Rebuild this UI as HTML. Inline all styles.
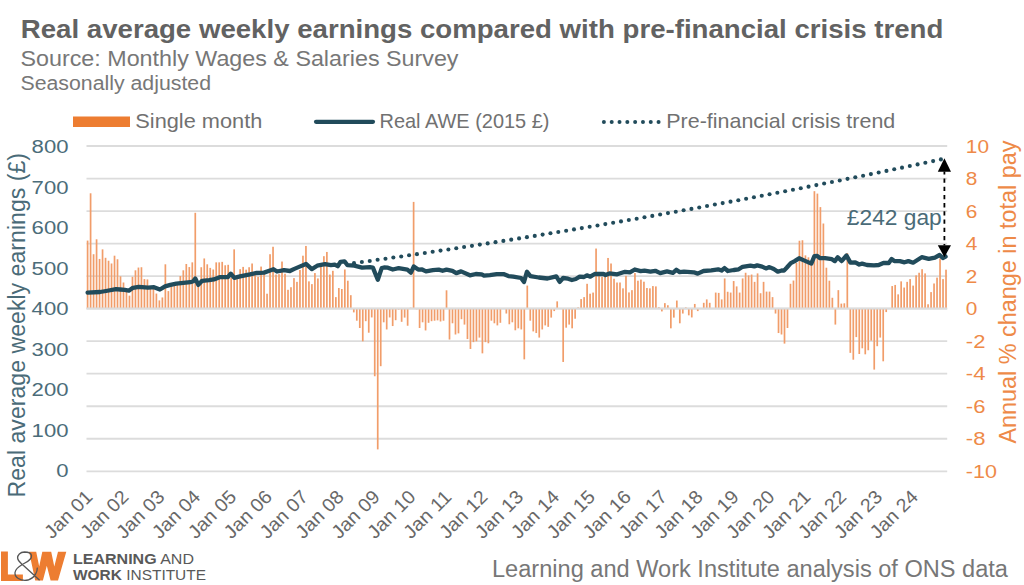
<!DOCTYPE html><html><head><meta charset="utf-8"><style>html,body{margin:0;padding:0;background:#fff;}svg{display:block;}</style></head><body>
<svg width="1024" height="585" viewBox="0 0 1024 585" style="font-family:'Liberation Sans', sans-serif">
<text x="20.8" y="38.3" font-size="26.5" font-weight="bold" fill="#626262" textLength="922.5" lengthAdjust="spacingAndGlyphs">Real average weekly earnings compared with pre-financial crisis trend</text>
<text x="20.5" y="66.2" font-size="22" fill="#777777" textLength="438" lengthAdjust="spacingAndGlyphs">Source: Monthly Wages &amp; Salaries Survey</text>
<text x="20.5" y="90.3" font-size="20" fill="#777777" textLength="190.5" lengthAdjust="spacingAndGlyphs">Seasonally adjusted</text>
<rect x="73" y="116.5" width="57" height="10.5" fill="#ED7D31"/>
<text x="135.3" y="128" font-size="21" fill="#717171" textLength="127" lengthAdjust="spacingAndGlyphs">Single month</text>
<line x1="316" y1="121.8" x2="373" y2="121.8" stroke="#214b5b" stroke-width="4.2" stroke-linecap="round"/>
<text x="379.5" y="128" font-size="21" fill="#717171" textLength="170" lengthAdjust="spacingAndGlyphs">Real AWE (2015 £)</text>
<circle cx="603.90" cy="121.9" r="2.0" fill="#214b5b"/>
<circle cx="611.71" cy="121.9" r="2.0" fill="#214b5b"/>
<circle cx="619.52" cy="121.9" r="2.0" fill="#214b5b"/>
<circle cx="627.33" cy="121.9" r="2.0" fill="#214b5b"/>
<circle cx="635.14" cy="121.9" r="2.0" fill="#214b5b"/>
<circle cx="642.95" cy="121.9" r="2.0" fill="#214b5b"/>
<circle cx="650.76" cy="121.9" r="2.0" fill="#214b5b"/>
<circle cx="658.57" cy="121.9" r="2.0" fill="#214b5b"/>
<text x="666.3" y="128" font-size="21" fill="#717171" textLength="229" lengthAdjust="spacingAndGlyphs">Pre-financial crisis trend</text>
<line x1="86.5" y1="146.00" x2="947.2" y2="146.00" stroke="#dcdcdc" stroke-width="1.8"/>
<line x1="86.5" y1="178.53" x2="947.2" y2="178.53" stroke="#dcdcdc" stroke-width="1.8"/>
<line x1="86.5" y1="211.06" x2="947.2" y2="211.06" stroke="#dcdcdc" stroke-width="1.8"/>
<line x1="86.5" y1="243.59" x2="947.2" y2="243.59" stroke="#dcdcdc" stroke-width="1.8"/>
<line x1="86.5" y1="276.12" x2="947.2" y2="276.12" stroke="#dcdcdc" stroke-width="1.8"/>
<line x1="86.5" y1="308.65" x2="947.2" y2="308.65" stroke="#dcdcdc" stroke-width="1.8"/>
<line x1="86.5" y1="341.18" x2="947.2" y2="341.18" stroke="#dcdcdc" stroke-width="1.8"/>
<line x1="86.5" y1="373.71" x2="947.2" y2="373.71" stroke="#dcdcdc" stroke-width="1.8"/>
<line x1="86.5" y1="406.24" x2="947.2" y2="406.24" stroke="#dcdcdc" stroke-width="1.8"/>
<line x1="86.5" y1="438.77" x2="947.2" y2="438.77" stroke="#dcdcdc" stroke-width="1.8"/>
<line x1="86.5" y1="471.30" x2="947.2" y2="471.30" stroke="#dcdcdc" stroke-width="1.8"/>
<rect x="86.75" y="240.57" width="1.7" height="67.92" fill="#F19D6A"/>
<rect x="89.74" y="193.29" width="1.7" height="115.21" fill="#F19D6A"/>
<rect x="92.73" y="254.22" width="1.7" height="54.27" fill="#F19D6A"/>
<rect x="95.72" y="239.28" width="1.7" height="69.22" fill="#F19D6A"/>
<rect x="98.71" y="258.94" width="1.7" height="49.56" fill="#F19D6A"/>
<rect x="101.70" y="249.35" width="1.7" height="59.15" fill="#F19D6A"/>
<rect x="104.70" y="257.80" width="1.7" height="50.70" fill="#F19D6A"/>
<rect x="107.69" y="260.73" width="1.7" height="47.77" fill="#F19D6A"/>
<rect x="110.68" y="263.49" width="1.7" height="45.01" fill="#F19D6A"/>
<rect x="113.67" y="255.69" width="1.7" height="52.81" fill="#F19D6A"/>
<rect x="116.66" y="259.26" width="1.7" height="49.24" fill="#F19D6A"/>
<rect x="119.65" y="276.32" width="1.7" height="32.17" fill="#F19D6A"/>
<rect x="122.64" y="282.50" width="1.7" height="26.00" fill="#F19D6A"/>
<rect x="125.63" y="290.14" width="1.7" height="18.36" fill="#F19D6A"/>
<rect x="128.62" y="295.66" width="1.7" height="12.84" fill="#F19D6A"/>
<rect x="131.62" y="276.81" width="1.7" height="31.69" fill="#F19D6A"/>
<rect x="134.61" y="270.31" width="1.7" height="38.19" fill="#F19D6A"/>
<rect x="137.60" y="267.55" width="1.7" height="40.95" fill="#F19D6A"/>
<rect x="140.59" y="267.23" width="1.7" height="41.27" fill="#F19D6A"/>
<rect x="143.58" y="279.09" width="1.7" height="29.41" fill="#F19D6A"/>
<rect x="146.57" y="279.41" width="1.7" height="29.09" fill="#F19D6A"/>
<rect x="149.56" y="289.00" width="1.7" height="19.50" fill="#F19D6A"/>
<rect x="152.55" y="289.00" width="1.7" height="19.50" fill="#F19D6A"/>
<rect x="155.54" y="293.55" width="1.7" height="14.95" fill="#F19D6A"/>
<rect x="158.53" y="300.38" width="1.7" height="8.12" fill="#F19D6A"/>
<rect x="161.53" y="297.45" width="1.7" height="11.05" fill="#F19D6A"/>
<rect x="164.52" y="264.30" width="1.7" height="44.20" fill="#F19D6A"/>
<rect x="167.51" y="291.11" width="1.7" height="17.39" fill="#F19D6A"/>
<rect x="170.50" y="285.75" width="1.7" height="22.75" fill="#F19D6A"/>
<rect x="173.49" y="284.12" width="1.7" height="24.38" fill="#F19D6A"/>
<rect x="176.48" y="282.50" width="1.7" height="26.00" fill="#F19D6A"/>
<rect x="179.47" y="276.00" width="1.7" height="32.50" fill="#F19D6A"/>
<rect x="182.46" y="270.31" width="1.7" height="38.19" fill="#F19D6A"/>
<rect x="185.45" y="263.98" width="1.7" height="44.53" fill="#F19D6A"/>
<rect x="188.44" y="267.06" width="1.7" height="41.44" fill="#F19D6A"/>
<rect x="191.44" y="262.35" width="1.7" height="46.15" fill="#F19D6A"/>
<rect x="194.43" y="212.79" width="1.7" height="95.71" fill="#F19D6A"/>
<rect x="197.42" y="284.12" width="1.7" height="24.38" fill="#F19D6A"/>
<rect x="200.41" y="267.23" width="1.7" height="41.27" fill="#F19D6A"/>
<rect x="203.40" y="258.45" width="1.7" height="50.05" fill="#F19D6A"/>
<rect x="206.39" y="264.30" width="1.7" height="44.20" fill="#F19D6A"/>
<rect x="209.38" y="267.88" width="1.7" height="40.62" fill="#F19D6A"/>
<rect x="212.37" y="269.50" width="1.7" height="39.00" fill="#F19D6A"/>
<rect x="215.36" y="262.35" width="1.7" height="46.15" fill="#F19D6A"/>
<rect x="218.35" y="262.35" width="1.7" height="46.15" fill="#F19D6A"/>
<rect x="221.34" y="261.86" width="1.7" height="46.64" fill="#F19D6A"/>
<rect x="224.34" y="265.27" width="1.7" height="43.23" fill="#F19D6A"/>
<rect x="227.33" y="264.79" width="1.7" height="43.71" fill="#F19D6A"/>
<rect x="230.32" y="277.62" width="1.7" height="30.88" fill="#F19D6A"/>
<rect x="233.31" y="249.35" width="1.7" height="59.15" fill="#F19D6A"/>
<rect x="236.30" y="279.25" width="1.7" height="29.25" fill="#F19D6A"/>
<rect x="239.29" y="269.18" width="1.7" height="39.32" fill="#F19D6A"/>
<rect x="242.28" y="266.90" width="1.7" height="41.60" fill="#F19D6A"/>
<rect x="245.27" y="269.66" width="1.7" height="38.84" fill="#F19D6A"/>
<rect x="248.26" y="267.23" width="1.7" height="41.27" fill="#F19D6A"/>
<rect x="251.25" y="263.49" width="1.7" height="45.01" fill="#F19D6A"/>
<rect x="254.25" y="271.45" width="1.7" height="37.05" fill="#F19D6A"/>
<rect x="257.24" y="276.81" width="1.7" height="31.69" fill="#F19D6A"/>
<rect x="260.23" y="266.57" width="1.7" height="41.93" fill="#F19D6A"/>
<rect x="263.22" y="271.12" width="1.7" height="37.38" fill="#F19D6A"/>
<rect x="266.21" y="293.71" width="1.7" height="14.79" fill="#F19D6A"/>
<rect x="269.20" y="254.22" width="1.7" height="54.27" fill="#F19D6A"/>
<rect x="272.19" y="246.75" width="1.7" height="61.75" fill="#F19D6A"/>
<rect x="275.18" y="274.54" width="1.7" height="33.96" fill="#F19D6A"/>
<rect x="278.17" y="274.21" width="1.7" height="34.29" fill="#F19D6A"/>
<rect x="281.16" y="261.54" width="1.7" height="46.96" fill="#F19D6A"/>
<rect x="284.16" y="273.73" width="1.7" height="34.77" fill="#F19D6A"/>
<rect x="287.15" y="289.81" width="1.7" height="18.69" fill="#F19D6A"/>
<rect x="290.14" y="287.21" width="1.7" height="21.29" fill="#F19D6A"/>
<rect x="293.13" y="278.11" width="1.7" height="30.39" fill="#F19D6A"/>
<rect x="296.12" y="281.85" width="1.7" height="26.65" fill="#F19D6A"/>
<rect x="299.11" y="269.99" width="1.7" height="38.51" fill="#F19D6A"/>
<rect x="302.10" y="255.69" width="1.7" height="52.81" fill="#F19D6A"/>
<rect x="305.09" y="245.94" width="1.7" height="62.56" fill="#F19D6A"/>
<rect x="308.08" y="281.36" width="1.7" height="27.14" fill="#F19D6A"/>
<rect x="311.07" y="284.12" width="1.7" height="24.38" fill="#F19D6A"/>
<rect x="314.07" y="273.07" width="1.7" height="35.43" fill="#F19D6A"/>
<rect x="317.06" y="278.44" width="1.7" height="30.06" fill="#F19D6A"/>
<rect x="320.05" y="263.49" width="1.7" height="45.01" fill="#F19D6A"/>
<rect x="323.04" y="256.18" width="1.7" height="52.33" fill="#F19D6A"/>
<rect x="326.03" y="251.95" width="1.7" height="56.55" fill="#F19D6A"/>
<rect x="329.02" y="274.54" width="1.7" height="33.96" fill="#F19D6A"/>
<rect x="332.01" y="270.80" width="1.7" height="37.70" fill="#F19D6A"/>
<rect x="335.00" y="297.12" width="1.7" height="11.38" fill="#F19D6A"/>
<rect x="337.99" y="288.02" width="1.7" height="20.48" fill="#F19D6A"/>
<rect x="340.99" y="289.00" width="1.7" height="19.50" fill="#F19D6A"/>
<rect x="343.98" y="269.50" width="1.7" height="39.00" fill="#F19D6A"/>
<rect x="346.97" y="280.71" width="1.7" height="27.79" fill="#F19D6A"/>
<rect x="349.96" y="295.18" width="1.7" height="13.32" fill="#F19D6A"/>
<rect x="352.95" y="308.50" width="1.7" height="3.90" fill="#F19D6A"/>
<rect x="355.94" y="308.50" width="1.7" height="12.19" fill="#F19D6A"/>
<rect x="358.93" y="308.50" width="1.7" height="19.50" fill="#F19D6A"/>
<rect x="361.92" y="308.50" width="1.7" height="32.83" fill="#F19D6A"/>
<rect x="364.91" y="308.50" width="1.7" height="12.68" fill="#F19D6A"/>
<rect x="367.90" y="308.50" width="1.7" height="24.21" fill="#F19D6A"/>
<rect x="370.89" y="308.50" width="1.7" height="8.94" fill="#F19D6A"/>
<rect x="373.89" y="308.50" width="1.7" height="67.76" fill="#F19D6A"/>
<rect x="376.88" y="308.50" width="1.7" height="140.89" fill="#F19D6A"/>
<rect x="379.87" y="308.50" width="1.7" height="57.69" fill="#F19D6A"/>
<rect x="382.86" y="308.50" width="1.7" height="13.81" fill="#F19D6A"/>
<rect x="385.85" y="308.50" width="1.7" height="20.96" fill="#F19D6A"/>
<rect x="388.84" y="308.50" width="1.7" height="8.94" fill="#F19D6A"/>
<rect x="391.83" y="308.50" width="1.7" height="17.55" fill="#F19D6A"/>
<rect x="394.82" y="308.50" width="1.7" height="11.70" fill="#F19D6A"/>
<rect x="397.81" y="308.50" width="1.7" height="1.14" fill="#F19D6A"/>
<rect x="400.80" y="308.50" width="1.7" height="13.32" fill="#F19D6A"/>
<rect x="403.80" y="308.50" width="1.7" height="9.10" fill="#F19D6A"/>
<rect x="406.79" y="308.50" width="1.7" height="17.23" fill="#F19D6A"/>
<rect x="409.78" y="307.69" width="1.7" height="0.81" fill="#F19D6A"/>
<rect x="412.77" y="201.90" width="1.7" height="106.60" fill="#F19D6A"/>
<rect x="415.76" y="308.50" width="1.7" height="0.81" fill="#F19D6A"/>
<rect x="418.75" y="308.50" width="1.7" height="19.50" fill="#F19D6A"/>
<rect x="421.74" y="308.50" width="1.7" height="13.81" fill="#F19D6A"/>
<rect x="424.73" y="308.50" width="1.7" height="21.94" fill="#F19D6A"/>
<rect x="427.72" y="308.50" width="1.7" height="14.30" fill="#F19D6A"/>
<rect x="430.72" y="308.50" width="1.7" height="12.68" fill="#F19D6A"/>
<rect x="433.71" y="308.50" width="1.7" height="12.19" fill="#F19D6A"/>
<rect x="436.70" y="308.50" width="1.7" height="11.86" fill="#F19D6A"/>
<rect x="439.69" y="308.50" width="1.7" height="13.00" fill="#F19D6A"/>
<rect x="442.68" y="308.50" width="1.7" height="12.19" fill="#F19D6A"/>
<rect x="445.67" y="290.30" width="1.7" height="18.20" fill="#F19D6A"/>
<rect x="448.66" y="308.50" width="1.7" height="31.04" fill="#F19D6A"/>
<rect x="451.65" y="308.50" width="1.7" height="14.79" fill="#F19D6A"/>
<rect x="454.64" y="308.50" width="1.7" height="26.00" fill="#F19D6A"/>
<rect x="457.63" y="308.50" width="1.7" height="24.86" fill="#F19D6A"/>
<rect x="460.62" y="308.50" width="1.7" height="10.72" fill="#F19D6A"/>
<rect x="463.62" y="308.50" width="1.7" height="16.09" fill="#F19D6A"/>
<rect x="466.61" y="308.50" width="1.7" height="30.55" fill="#F19D6A"/>
<rect x="469.60" y="308.50" width="1.7" height="40.46" fill="#F19D6A"/>
<rect x="472.59" y="308.50" width="1.7" height="33.64" fill="#F19D6A"/>
<rect x="475.58" y="308.50" width="1.7" height="32.83" fill="#F19D6A"/>
<rect x="478.57" y="308.50" width="1.7" height="29.09" fill="#F19D6A"/>
<rect x="481.56" y="308.50" width="1.7" height="44.85" fill="#F19D6A"/>
<rect x="484.55" y="308.50" width="1.7" height="33.64" fill="#F19D6A"/>
<rect x="487.54" y="308.50" width="1.7" height="34.77" fill="#F19D6A"/>
<rect x="490.53" y="308.50" width="1.7" height="12.19" fill="#F19D6A"/>
<rect x="493.53" y="308.50" width="1.7" height="14.79" fill="#F19D6A"/>
<rect x="496.52" y="308.50" width="1.7" height="16.90" fill="#F19D6A"/>
<rect x="499.51" y="308.50" width="1.7" height="14.30" fill="#F19D6A"/>
<rect x="502.50" y="308.50" width="1.7" height="0.49" fill="#F19D6A"/>
<rect x="505.49" y="308.50" width="1.7" height="5.04" fill="#F19D6A"/>
<rect x="508.48" y="308.50" width="1.7" height="15.76" fill="#F19D6A"/>
<rect x="511.47" y="308.50" width="1.7" height="13.81" fill="#F19D6A"/>
<rect x="514.46" y="308.50" width="1.7" height="21.78" fill="#F19D6A"/>
<rect x="517.45" y="308.50" width="1.7" height="19.82" fill="#F19D6A"/>
<rect x="520.44" y="308.50" width="1.7" height="20.96" fill="#F19D6A"/>
<rect x="523.44" y="308.50" width="1.7" height="50.86" fill="#F19D6A"/>
<rect x="526.43" y="285.59" width="1.7" height="22.91" fill="#F19D6A"/>
<rect x="529.42" y="308.50" width="1.7" height="12.19" fill="#F19D6A"/>
<rect x="532.41" y="308.50" width="1.7" height="22.91" fill="#F19D6A"/>
<rect x="535.40" y="308.50" width="1.7" height="24.54" fill="#F19D6A"/>
<rect x="538.39" y="308.50" width="1.7" height="29.09" fill="#F19D6A"/>
<rect x="541.38" y="308.50" width="1.7" height="20.96" fill="#F19D6A"/>
<rect x="544.37" y="308.50" width="1.7" height="16.90" fill="#F19D6A"/>
<rect x="547.36" y="308.50" width="1.7" height="18.36" fill="#F19D6A"/>
<rect x="550.36" y="308.50" width="1.7" height="9.10" fill="#F19D6A"/>
<rect x="553.35" y="308.50" width="1.7" height="2.60" fill="#F19D6A"/>
<rect x="556.34" y="301.35" width="1.7" height="7.15" fill="#F19D6A"/>
<rect x="562.32" y="308.50" width="1.7" height="53.46" fill="#F19D6A"/>
<rect x="565.31" y="308.50" width="1.7" height="19.18" fill="#F19D6A"/>
<rect x="568.30" y="308.50" width="1.7" height="16.09" fill="#F19D6A"/>
<rect x="571.29" y="308.50" width="1.7" height="19.82" fill="#F19D6A"/>
<rect x="574.28" y="308.50" width="1.7" height="10.24" fill="#F19D6A"/>
<rect x="577.27" y="307.36" width="1.7" height="1.14" fill="#F19D6A"/>
<rect x="580.26" y="299.07" width="1.7" height="9.42" fill="#F19D6A"/>
<rect x="583.26" y="297.12" width="1.7" height="11.38" fill="#F19D6A"/>
<rect x="586.25" y="283.80" width="1.7" height="24.70" fill="#F19D6A"/>
<rect x="589.24" y="293.71" width="1.7" height="14.79" fill="#F19D6A"/>
<rect x="592.23" y="292.57" width="1.7" height="15.92" fill="#F19D6A"/>
<rect x="595.22" y="248.54" width="1.7" height="59.96" fill="#F19D6A"/>
<rect x="598.21" y="276.00" width="1.7" height="32.50" fill="#F19D6A"/>
<rect x="601.20" y="276.81" width="1.7" height="31.69" fill="#F19D6A"/>
<rect x="604.19" y="276.81" width="1.7" height="31.69" fill="#F19D6A"/>
<rect x="607.18" y="257.96" width="1.7" height="50.54" fill="#F19D6A"/>
<rect x="610.18" y="263.49" width="1.7" height="45.01" fill="#F19D6A"/>
<rect x="613.17" y="278.76" width="1.7" height="29.74" fill="#F19D6A"/>
<rect x="616.16" y="282.50" width="1.7" height="26.00" fill="#F19D6A"/>
<rect x="619.15" y="282.50" width="1.7" height="26.00" fill="#F19D6A"/>
<rect x="622.14" y="288.35" width="1.7" height="20.15" fill="#F19D6A"/>
<rect x="625.13" y="275.84" width="1.7" height="32.66" fill="#F19D6A"/>
<rect x="628.12" y="292.41" width="1.7" height="16.09" fill="#F19D6A"/>
<rect x="631.11" y="290.14" width="1.7" height="18.36" fill="#F19D6A"/>
<rect x="634.10" y="273.07" width="1.7" height="35.43" fill="#F19D6A"/>
<rect x="637.09" y="280.71" width="1.7" height="27.79" fill="#F19D6A"/>
<rect x="640.09" y="279.57" width="1.7" height="28.93" fill="#F19D6A"/>
<rect x="643.08" y="281.69" width="1.7" height="26.81" fill="#F19D6A"/>
<rect x="646.07" y="288.02" width="1.7" height="20.48" fill="#F19D6A"/>
<rect x="649.06" y="288.35" width="1.7" height="20.15" fill="#F19D6A"/>
<rect x="652.05" y="286.07" width="1.7" height="22.42" fill="#F19D6A"/>
<rect x="655.04" y="286.40" width="1.7" height="22.10" fill="#F19D6A"/>
<rect x="658.03" y="307.20" width="1.7" height="1.30" fill="#F19D6A"/>
<rect x="661.02" y="308.50" width="1.7" height="2.92" fill="#F19D6A"/>
<rect x="664.01" y="303.14" width="1.7" height="5.36" fill="#F19D6A"/>
<rect x="667.00" y="305.25" width="1.7" height="3.25" fill="#F19D6A"/>
<rect x="670.00" y="308.50" width="1.7" height="19.82" fill="#F19D6A"/>
<rect x="672.99" y="308.50" width="1.7" height="9.10" fill="#F19D6A"/>
<rect x="675.98" y="300.54" width="1.7" height="7.96" fill="#F19D6A"/>
<rect x="678.97" y="308.50" width="1.7" height="14.79" fill="#F19D6A"/>
<rect x="681.96" y="308.50" width="1.7" height="5.04" fill="#F19D6A"/>
<rect x="684.95" y="307.36" width="1.7" height="1.14" fill="#F19D6A"/>
<rect x="687.94" y="308.50" width="1.7" height="6.83" fill="#F19D6A"/>
<rect x="690.93" y="308.50" width="1.7" height="8.94" fill="#F19D6A"/>
<rect x="693.92" y="303.95" width="1.7" height="4.55" fill="#F19D6A"/>
<rect x="696.91" y="308.50" width="1.7" height="2.60" fill="#F19D6A"/>
<rect x="702.90" y="302.81" width="1.7" height="5.69" fill="#F19D6A"/>
<rect x="705.89" y="299.40" width="1.7" height="9.10" fill="#F19D6A"/>
<rect x="708.88" y="302.81" width="1.7" height="5.69" fill="#F19D6A"/>
<rect x="711.87" y="308.50" width="1.7" height="0.49" fill="#F19D6A"/>
<rect x="714.86" y="292.57" width="1.7" height="15.92" fill="#F19D6A"/>
<rect x="717.85" y="292.90" width="1.7" height="15.60" fill="#F19D6A"/>
<rect x="720.84" y="299.40" width="1.7" height="9.10" fill="#F19D6A"/>
<rect x="723.83" y="278.44" width="1.7" height="30.06" fill="#F19D6A"/>
<rect x="726.82" y="291.76" width="1.7" height="16.74" fill="#F19D6A"/>
<rect x="729.82" y="292.57" width="1.7" height="15.92" fill="#F19D6A"/>
<rect x="732.81" y="281.04" width="1.7" height="27.46" fill="#F19D6A"/>
<rect x="735.80" y="286.40" width="1.7" height="22.10" fill="#F19D6A"/>
<rect x="738.79" y="292.57" width="1.7" height="15.92" fill="#F19D6A"/>
<rect x="741.78" y="278.44" width="1.7" height="30.06" fill="#F19D6A"/>
<rect x="744.77" y="272.75" width="1.7" height="35.75" fill="#F19D6A"/>
<rect x="747.76" y="275.35" width="1.7" height="33.15" fill="#F19D6A"/>
<rect x="750.75" y="274.54" width="1.7" height="33.96" fill="#F19D6A"/>
<rect x="753.74" y="281.85" width="1.7" height="26.65" fill="#F19D6A"/>
<rect x="756.73" y="273.40" width="1.7" height="35.10" fill="#F19D6A"/>
<rect x="759.73" y="293.23" width="1.7" height="15.27" fill="#F19D6A"/>
<rect x="762.72" y="281.85" width="1.7" height="26.65" fill="#F19D6A"/>
<rect x="765.71" y="291.60" width="1.7" height="16.90" fill="#F19D6A"/>
<rect x="768.70" y="291.60" width="1.7" height="16.90" fill="#F19D6A"/>
<rect x="771.69" y="297.12" width="1.7" height="11.38" fill="#F19D6A"/>
<rect x="774.68" y="308.50" width="1.7" height="5.04" fill="#F19D6A"/>
<rect x="777.67" y="308.50" width="1.7" height="24.54" fill="#F19D6A"/>
<rect x="780.66" y="308.50" width="1.7" height="26.00" fill="#F19D6A"/>
<rect x="783.65" y="308.50" width="1.7" height="35.10" fill="#F19D6A"/>
<rect x="786.64" y="308.50" width="1.7" height="19.50" fill="#F19D6A"/>
<rect x="789.63" y="283.80" width="1.7" height="24.70" fill="#F19D6A"/>
<rect x="792.63" y="280.55" width="1.7" height="27.95" fill="#F19D6A"/>
<rect x="795.62" y="263.00" width="1.7" height="45.50" fill="#F19D6A"/>
<rect x="798.61" y="240.74" width="1.7" height="67.76" fill="#F19D6A"/>
<rect x="801.60" y="240.25" width="1.7" height="68.25" fill="#F19D6A"/>
<rect x="804.59" y="255.36" width="1.7" height="53.14" fill="#F19D6A"/>
<rect x="807.58" y="257.31" width="1.7" height="51.19" fill="#F19D6A"/>
<rect x="810.57" y="261.38" width="1.7" height="47.12" fill="#F19D6A"/>
<rect x="813.56" y="191.18" width="1.7" height="117.33" fill="#F19D6A"/>
<rect x="816.55" y="193.61" width="1.7" height="114.89" fill="#F19D6A"/>
<rect x="819.55" y="207.10" width="1.7" height="101.40" fill="#F19D6A"/>
<rect x="822.54" y="223.51" width="1.7" height="84.99" fill="#F19D6A"/>
<rect x="825.53" y="267.71" width="1.7" height="40.79" fill="#F19D6A"/>
<rect x="828.52" y="280.71" width="1.7" height="27.79" fill="#F19D6A"/>
<rect x="831.51" y="297.77" width="1.7" height="10.72" fill="#F19D6A"/>
<rect x="834.50" y="308.50" width="1.7" height="16.09" fill="#F19D6A"/>
<rect x="837.49" y="290.14" width="1.7" height="18.36" fill="#F19D6A"/>
<rect x="840.48" y="303.62" width="1.7" height="4.88" fill="#F19D6A"/>
<rect x="843.47" y="303.30" width="1.7" height="5.20" fill="#F19D6A"/>
<rect x="846.46" y="253.09" width="1.7" height="55.41" fill="#F19D6A"/>
<rect x="849.46" y="308.50" width="1.7" height="44.36" fill="#F19D6A"/>
<rect x="852.45" y="308.50" width="1.7" height="51.19" fill="#F19D6A"/>
<rect x="855.44" y="308.50" width="1.7" height="28.60" fill="#F19D6A"/>
<rect x="858.43" y="308.50" width="1.7" height="45.50" fill="#F19D6A"/>
<rect x="861.42" y="308.50" width="1.7" height="39.81" fill="#F19D6A"/>
<rect x="864.41" y="308.50" width="1.7" height="45.82" fill="#F19D6A"/>
<rect x="867.40" y="308.50" width="1.7" height="41.76" fill="#F19D6A"/>
<rect x="870.39" y="308.50" width="1.7" height="32.17" fill="#F19D6A"/>
<rect x="873.38" y="308.50" width="1.7" height="61.10" fill="#F19D6A"/>
<rect x="876.37" y="308.50" width="1.7" height="37.70" fill="#F19D6A"/>
<rect x="879.37" y="308.50" width="1.7" height="29.09" fill="#F19D6A"/>
<rect x="882.36" y="308.50" width="1.7" height="52.81" fill="#F19D6A"/>
<rect x="885.35" y="308.50" width="1.7" height="3.58" fill="#F19D6A"/>
<rect x="891.33" y="286.07" width="1.7" height="22.42" fill="#F19D6A"/>
<rect x="894.32" y="284.94" width="1.7" height="23.56" fill="#F19D6A"/>
<rect x="897.31" y="294.36" width="1.7" height="14.14" fill="#F19D6A"/>
<rect x="900.30" y="281.36" width="1.7" height="27.14" fill="#F19D6A"/>
<rect x="903.29" y="287.54" width="1.7" height="20.96" fill="#F19D6A"/>
<rect x="906.28" y="281.85" width="1.7" height="26.65" fill="#F19D6A"/>
<rect x="909.27" y="279.09" width="1.7" height="29.41" fill="#F19D6A"/>
<rect x="912.27" y="285.59" width="1.7" height="22.91" fill="#F19D6A"/>
<rect x="915.26" y="275.35" width="1.7" height="33.15" fill="#F19D6A"/>
<rect x="918.25" y="272.75" width="1.7" height="35.75" fill="#F19D6A"/>
<rect x="921.24" y="269.18" width="1.7" height="39.32" fill="#F19D6A"/>
<rect x="924.23" y="273.40" width="1.7" height="35.10" fill="#F19D6A"/>
<rect x="927.22" y="304.27" width="1.7" height="4.23" fill="#F19D6A"/>
<rect x="930.21" y="292.09" width="1.7" height="16.41" fill="#F19D6A"/>
<rect x="933.20" y="283.48" width="1.7" height="25.03" fill="#F19D6A"/>
<rect x="936.19" y="277.62" width="1.7" height="30.88" fill="#F19D6A"/>
<rect x="939.19" y="258.45" width="1.7" height="50.05" fill="#F19D6A"/>
<rect x="942.18" y="279.09" width="1.7" height="29.41" fill="#F19D6A"/>
<rect x="945.17" y="269.66" width="1.7" height="38.84" fill="#F19D6A"/>
<line x1="86.5" y1="308.50" x2="947.2" y2="308.50" stroke="#dcdcdc" stroke-width="1.8"/>
<circle cx="354.00" cy="263.15" r="2.05" fill="#214b5b"/>
<circle cx="361.87" cy="262.05" r="2.05" fill="#214b5b"/>
<circle cx="369.74" cy="260.94" r="2.05" fill="#214b5b"/>
<circle cx="377.61" cy="259.82" r="2.05" fill="#214b5b"/>
<circle cx="385.48" cy="258.70" r="2.05" fill="#214b5b"/>
<circle cx="393.35" cy="257.57" r="2.05" fill="#214b5b"/>
<circle cx="401.21" cy="256.43" r="2.05" fill="#214b5b"/>
<circle cx="409.08" cy="255.28" r="2.05" fill="#214b5b"/>
<circle cx="416.94" cy="254.13" r="2.05" fill="#214b5b"/>
<circle cx="424.81" cy="252.96" r="2.05" fill="#214b5b"/>
<circle cx="432.67" cy="251.79" r="2.05" fill="#214b5b"/>
<circle cx="440.53" cy="250.62" r="2.05" fill="#214b5b"/>
<circle cx="448.39" cy="249.43" r="2.05" fill="#214b5b"/>
<circle cx="456.25" cy="248.24" r="2.05" fill="#214b5b"/>
<circle cx="464.10" cy="247.04" r="2.05" fill="#214b5b"/>
<circle cx="471.96" cy="245.83" r="2.05" fill="#214b5b"/>
<circle cx="479.81" cy="244.61" r="2.05" fill="#214b5b"/>
<circle cx="487.67" cy="243.39" r="2.05" fill="#214b5b"/>
<circle cx="495.52" cy="242.16" r="2.05" fill="#214b5b"/>
<circle cx="503.37" cy="240.92" r="2.05" fill="#214b5b"/>
<circle cx="511.22" cy="239.67" r="2.05" fill="#214b5b"/>
<circle cx="519.07" cy="238.41" r="2.05" fill="#214b5b"/>
<circle cx="526.92" cy="237.15" r="2.05" fill="#214b5b"/>
<circle cx="534.76" cy="235.88" r="2.05" fill="#214b5b"/>
<circle cx="542.61" cy="234.60" r="2.05" fill="#214b5b"/>
<circle cx="550.45" cy="233.32" r="2.05" fill="#214b5b"/>
<circle cx="558.29" cy="232.03" r="2.05" fill="#214b5b"/>
<circle cx="566.14" cy="230.72" r="2.05" fill="#214b5b"/>
<circle cx="573.98" cy="229.42" r="2.05" fill="#214b5b"/>
<circle cx="581.81" cy="228.10" r="2.05" fill="#214b5b"/>
<circle cx="589.65" cy="226.78" r="2.05" fill="#214b5b"/>
<circle cx="597.49" cy="225.45" r="2.05" fill="#214b5b"/>
<circle cx="605.32" cy="224.11" r="2.05" fill="#214b5b"/>
<circle cx="613.16" cy="222.76" r="2.05" fill="#214b5b"/>
<circle cx="620.99" cy="221.41" r="2.05" fill="#214b5b"/>
<circle cx="628.82" cy="220.05" r="2.05" fill="#214b5b"/>
<circle cx="636.65" cy="218.68" r="2.05" fill="#214b5b"/>
<circle cx="644.48" cy="217.30" r="2.05" fill="#214b5b"/>
<circle cx="652.30" cy="215.91" r="2.05" fill="#214b5b"/>
<circle cx="660.13" cy="214.52" r="2.05" fill="#214b5b"/>
<circle cx="667.95" cy="213.12" r="2.05" fill="#214b5b"/>
<circle cx="675.78" cy="211.72" r="2.05" fill="#214b5b"/>
<circle cx="683.60" cy="210.30" r="2.05" fill="#214b5b"/>
<circle cx="691.42" cy="208.88" r="2.05" fill="#214b5b"/>
<circle cx="699.24" cy="207.45" r="2.05" fill="#214b5b"/>
<circle cx="707.05" cy="206.01" r="2.05" fill="#214b5b"/>
<circle cx="714.87" cy="204.57" r="2.05" fill="#214b5b"/>
<circle cx="722.68" cy="203.12" r="2.05" fill="#214b5b"/>
<circle cx="730.50" cy="201.66" r="2.05" fill="#214b5b"/>
<circle cx="738.31" cy="200.19" r="2.05" fill="#214b5b"/>
<circle cx="746.12" cy="198.71" r="2.05" fill="#214b5b"/>
<circle cx="753.93" cy="197.23" r="2.05" fill="#214b5b"/>
<circle cx="761.74" cy="195.74" r="2.05" fill="#214b5b"/>
<circle cx="769.54" cy="194.24" r="2.05" fill="#214b5b"/>
<circle cx="777.35" cy="192.74" r="2.05" fill="#214b5b"/>
<circle cx="785.15" cy="191.23" r="2.05" fill="#214b5b"/>
<circle cx="792.95" cy="189.71" r="2.05" fill="#214b5b"/>
<circle cx="800.75" cy="188.18" r="2.05" fill="#214b5b"/>
<circle cx="808.55" cy="186.65" r="2.05" fill="#214b5b"/>
<circle cx="816.35" cy="185.10" r="2.05" fill="#214b5b"/>
<circle cx="824.14" cy="183.55" r="2.05" fill="#214b5b"/>
<circle cx="831.94" cy="182.00" r="2.05" fill="#214b5b"/>
<circle cx="839.73" cy="180.43" r="2.05" fill="#214b5b"/>
<circle cx="847.52" cy="178.86" r="2.05" fill="#214b5b"/>
<circle cx="855.31" cy="177.28" r="2.05" fill="#214b5b"/>
<circle cx="863.10" cy="175.69" r="2.05" fill="#214b5b"/>
<circle cx="870.89" cy="174.10" r="2.05" fill="#214b5b"/>
<circle cx="878.67" cy="172.50" r="2.05" fill="#214b5b"/>
<circle cx="886.46" cy="170.89" r="2.05" fill="#214b5b"/>
<circle cx="894.24" cy="169.27" r="2.05" fill="#214b5b"/>
<circle cx="902.02" cy="167.65" r="2.05" fill="#214b5b"/>
<circle cx="909.80" cy="166.02" r="2.05" fill="#214b5b"/>
<circle cx="917.58" cy="164.38" r="2.05" fill="#214b5b"/>
<circle cx="925.35" cy="162.73" r="2.05" fill="#214b5b"/>
<circle cx="933.13" cy="161.08" r="2.05" fill="#214b5b"/>
<circle cx="940.90" cy="159.42" r="2.05" fill="#214b5b"/>
<path d="M87.6,292.6 L100.0,292.0 L106.0,291.0 L116.0,289.2 L120.0,289.5 L124.7,289.9 L128.8,290.7 L132.9,287.8 L138.8,286.9 L148.1,287.6 L154.0,287.2 L159.9,289.5 L165.1,286.4 L170.4,284.9 L176.3,283.7 L183.3,282.9 L190.3,282.2 L193.3,281.3 L195.3,278.4 L198.3,284.9 L202.1,280.8 L209.1,280.2 L213.8,279.4 L219.6,277.2 L227.9,277.2 L230.8,273.7 L234.3,277.8 L240.0,276.4 L250.0,274.4 L256.0,273.0 L264.0,272.6 L270.0,270.5 L273.5,269.2 L277.0,271.5 L284.0,270.1 L289.9,271.0 L293.8,269.1 L299.6,266.6 L306.0,263.9 L311.8,269.1 L317.2,265.7 L325.0,264.2 L330.9,265.2 L334.8,264.7 L337.7,266.2 L340.6,261.8 L344.5,261.3 L347.5,265.2 L354.3,265.7 L362.1,267.6 L369.9,267.1 L372.9,267.6 L377.8,279.8 L381.7,268.1 L384.0,267.5 L387.9,267.7 L392.8,269.5 L398.6,268.2 L407.4,269.6 L410.9,272.6 L413.8,266.5 L418.2,269.6 L422.1,269.5 L426.0,271.4 L432.8,270.1 L438.7,269.6 L442.6,270.8 L446.5,269.6 L452.4,270.8 L456.3,273.1 L461.1,271.4 L469.9,275.3 L475.8,274.0 L481.7,274.3 L484.0,275.6 L489.9,275.1 L496.7,274.1 L503.5,274.1 L508.4,276.1 L513.3,276.6 L521.1,278.0 L524.0,281.9 L527.0,271.7 L530.4,276.1 L538.7,277.5 L547.5,278.5 L556.3,276.4 L559.7,281.9 L563.1,278.0 L568.0,278.7 L571.9,280.0 L575.8,279.0 L579.7,276.6 L584.0,277.0 L586.9,275.3 L590.3,276.7 L594.7,274.0 L603.5,274.0 L605.5,275.0 L609.4,273.4 L617.2,274.3 L625.0,271.8 L629.9,272.4 L634.8,269.5 L640.6,271.1 L644.5,270.6 L650.4,271.6 L655.3,270.8 L660.2,273.1 L667.0,271.4 L672.9,272.8 L676.3,269.8 L679.7,272.1 L684.0,271.7 L693.8,272.3 L697.7,273.6 L703.5,271.0 L711.3,270.3 L718.2,269.3 L721.6,270.5 L724.5,268.1 L727.9,271.0 L733.8,270.0 L738.7,269.3 L742.6,266.8 L750.4,265.6 L754.3,266.4 L757.2,265.4 L762.1,266.6 L766.0,268.4 L769.4,267.1 L773.8,269.0 L777.8,271.7 L781.7,270.5 L784.0,270.6 L786.9,267.5 L790.8,263.1 L794.7,261.1 L799.1,258.2 L804.5,260.6 L811.3,263.6 L814.3,256.2 L817.2,255.9 L820.1,258.2 L825.0,258.2 L831.9,259.2 L834.8,261.1 L837.7,257.2 L841.6,261.1 L846.5,255.5 L850.4,262.6 L855.3,262.4 L859.2,264.5 L862.1,263.6 L867.0,265.0 L874.0,265.4 L878.7,265.0 L883.4,263.0 L888.8,263.0 L891.6,259.1 L894.3,261.1 L899.8,261.1 L904.5,262.3 L908.4,261.1 L913.1,262.7 L921.7,257.2 L928.7,258.9 L934.9,257.6 L939.6,255.0 L942.8,258.0 L945.6,256.6" fill="none" stroke="#214b5b" stroke-width="4.3" stroke-linejoin="round" stroke-linecap="round"/>
<line x1="944.4" y1="171.5" x2="944.4" y2="245.5" stroke="#000" stroke-width="1.8" stroke-dasharray="4.3 3.9" stroke-dashoffset="1.2"/>
<polygon points="944.4,158.3 937.8,171.8 951,171.8" fill="#000"/>
<polygon points="944.4,257.2 937.8,245.3 951,245.3" fill="#000"/>
<text x="846.8" y="224.9" font-size="22.5" fill="#4a6b78" textLength="95" lengthAdjust="spacingAndGlyphs">£242 gap</text>
<text x="68.5" y="153.0" font-size="17.5" fill="#4b6c79" text-anchor="end" textLength="36.9" lengthAdjust="spacingAndGlyphs">800</text>
<text x="68.5" y="193.5" font-size="17.5" fill="#4b6c79" text-anchor="end" textLength="36.9" lengthAdjust="spacingAndGlyphs">700</text>
<text x="68.5" y="234.0" font-size="17.5" fill="#4b6c79" text-anchor="end" textLength="36.9" lengthAdjust="spacingAndGlyphs">600</text>
<text x="68.5" y="274.5" font-size="17.5" fill="#4b6c79" text-anchor="end" textLength="36.9" lengthAdjust="spacingAndGlyphs">500</text>
<text x="68.5" y="315.0" font-size="17.5" fill="#4b6c79" text-anchor="end" textLength="36.9" lengthAdjust="spacingAndGlyphs">400</text>
<text x="68.5" y="355.5" font-size="17.5" fill="#4b6c79" text-anchor="end" textLength="36.9" lengthAdjust="spacingAndGlyphs">300</text>
<text x="68.5" y="396.0" font-size="17.5" fill="#4b6c79" text-anchor="end" textLength="36.9" lengthAdjust="spacingAndGlyphs">200</text>
<text x="68.5" y="436.5" font-size="17.5" fill="#4b6c79" text-anchor="end" textLength="36.9" lengthAdjust="spacingAndGlyphs">100</text>
<text x="68.5" y="477.0" font-size="17.5" fill="#4b6c79" text-anchor="end" textLength="12.3" lengthAdjust="spacingAndGlyphs">0</text>
<text x="965.8" y="152.5" font-size="18.5" fill="#EE8A48" textLength="23.2" lengthAdjust="spacingAndGlyphs">10</text>
<text x="965.8" y="185.0" font-size="18.5" fill="#EE8A48" textLength="11.6" lengthAdjust="spacingAndGlyphs">8</text>
<text x="965.8" y="217.6" font-size="18.5" fill="#EE8A48" textLength="11.6" lengthAdjust="spacingAndGlyphs">6</text>
<text x="965.8" y="250.1" font-size="18.5" fill="#EE8A48" textLength="11.6" lengthAdjust="spacingAndGlyphs">4</text>
<text x="965.8" y="282.6" font-size="18.5" fill="#EE8A48" textLength="11.6" lengthAdjust="spacingAndGlyphs">2</text>
<text x="965.8" y="315.1" font-size="18.5" fill="#EE8A48" textLength="11.6" lengthAdjust="spacingAndGlyphs">0</text>
<text x="965.8" y="347.7" font-size="18.5" fill="#EE8A48" textLength="19.6" lengthAdjust="spacingAndGlyphs">-2</text>
<text x="965.8" y="380.2" font-size="18.5" fill="#EE8A48" textLength="19.6" lengthAdjust="spacingAndGlyphs">-4</text>
<text x="965.8" y="412.7" font-size="18.5" fill="#EE8A48" textLength="19.6" lengthAdjust="spacingAndGlyphs">-6</text>
<text x="965.8" y="445.3" font-size="18.5" fill="#EE8A48" textLength="19.6" lengthAdjust="spacingAndGlyphs">-8</text>
<text x="965.8" y="477.8" font-size="18.5" fill="#EE8A48" textLength="31.2" lengthAdjust="spacingAndGlyphs">-10</text>
<text transform="translate(24.8,497.5) rotate(-90)" x="0" y="0" font-size="23" fill="#4a6b78" textLength="344.5" lengthAdjust="spacingAndGlyphs">Real average weekly earnings (£)</text>
<text transform="translate(1015.9,443.6) rotate(-90)" x="0" y="0" font-size="23.5" fill="#EE8A48" textLength="303" lengthAdjust="spacingAndGlyphs">Annual % change in total pay</text>
<text transform="translate(93.8,498.0) rotate(-45)" font-size="19" fill="#686868" text-anchor="end" textLength="59" lengthAdjust="spacingAndGlyphs">Jan 01</text>
<text transform="translate(129.7,498.0) rotate(-45)" font-size="19" fill="#686868" text-anchor="end" textLength="59" lengthAdjust="spacingAndGlyphs">Jan 02</text>
<text transform="translate(165.6,498.0) rotate(-45)" font-size="19" fill="#686868" text-anchor="end" textLength="59" lengthAdjust="spacingAndGlyphs">Jan 03</text>
<text transform="translate(201.5,498.0) rotate(-45)" font-size="19" fill="#686868" text-anchor="end" textLength="59" lengthAdjust="spacingAndGlyphs">Jan 04</text>
<text transform="translate(237.4,498.0) rotate(-45)" font-size="19" fill="#686868" text-anchor="end" textLength="59" lengthAdjust="spacingAndGlyphs">Jan 05</text>
<text transform="translate(273.3,498.0) rotate(-45)" font-size="19" fill="#686868" text-anchor="end" textLength="59" lengthAdjust="spacingAndGlyphs">Jan 06</text>
<text transform="translate(309.2,498.0) rotate(-45)" font-size="19" fill="#686868" text-anchor="end" textLength="59" lengthAdjust="spacingAndGlyphs">Jan 07</text>
<text transform="translate(345.0,498.0) rotate(-45)" font-size="19" fill="#686868" text-anchor="end" textLength="59" lengthAdjust="spacingAndGlyphs">Jan 08</text>
<text transform="translate(380.9,498.0) rotate(-45)" font-size="19" fill="#686868" text-anchor="end" textLength="59" lengthAdjust="spacingAndGlyphs">Jan 09</text>
<text transform="translate(416.8,498.0) rotate(-45)" font-size="19" fill="#686868" text-anchor="end" textLength="59" lengthAdjust="spacingAndGlyphs">Jan 10</text>
<text transform="translate(452.7,498.0) rotate(-45)" font-size="19" fill="#686868" text-anchor="end" textLength="59" lengthAdjust="spacingAndGlyphs">Jan 11</text>
<text transform="translate(488.6,498.0) rotate(-45)" font-size="19" fill="#686868" text-anchor="end" textLength="59" lengthAdjust="spacingAndGlyphs">Jan 12</text>
<text transform="translate(524.5,498.0) rotate(-45)" font-size="19" fill="#686868" text-anchor="end" textLength="59" lengthAdjust="spacingAndGlyphs">Jan 13</text>
<text transform="translate(560.4,498.0) rotate(-45)" font-size="19" fill="#686868" text-anchor="end" textLength="59" lengthAdjust="spacingAndGlyphs">Jan 14</text>
<text transform="translate(596.3,498.0) rotate(-45)" font-size="19" fill="#686868" text-anchor="end" textLength="59" lengthAdjust="spacingAndGlyphs">Jan 15</text>
<text transform="translate(632.2,498.0) rotate(-45)" font-size="19" fill="#686868" text-anchor="end" textLength="59" lengthAdjust="spacingAndGlyphs">Jan 16</text>
<text transform="translate(668.1,498.0) rotate(-45)" font-size="19" fill="#686868" text-anchor="end" textLength="59" lengthAdjust="spacingAndGlyphs">Jan 17</text>
<text transform="translate(704.0,498.0) rotate(-45)" font-size="19" fill="#686868" text-anchor="end" textLength="59" lengthAdjust="spacingAndGlyphs">Jan 18</text>
<text transform="translate(739.9,498.0) rotate(-45)" font-size="19" fill="#686868" text-anchor="end" textLength="59" lengthAdjust="spacingAndGlyphs">Jan 19</text>
<text transform="translate(775.7,498.0) rotate(-45)" font-size="19" fill="#686868" text-anchor="end" textLength="59" lengthAdjust="spacingAndGlyphs">Jan 20</text>
<text transform="translate(811.6,498.0) rotate(-45)" font-size="19" fill="#686868" text-anchor="end" textLength="59" lengthAdjust="spacingAndGlyphs">Jan 21</text>
<text transform="translate(847.5,498.0) rotate(-45)" font-size="19" fill="#686868" text-anchor="end" textLength="59" lengthAdjust="spacingAndGlyphs">Jan 22</text>
<text transform="translate(883.4,498.0) rotate(-45)" font-size="19" fill="#686868" text-anchor="end" textLength="59" lengthAdjust="spacingAndGlyphs">Jan 23</text>
<text transform="translate(919.3,498.0) rotate(-45)" font-size="19" fill="#686868" text-anchor="end" textLength="59" lengthAdjust="spacingAndGlyphs">Jan 24</text>
<text x="492" y="577.4" font-size="23.5" fill="#777777" textLength="516" lengthAdjust="spacingAndGlyphs">Learning and Work Institute analysis of ONS data</text>
<path d="M1,551.5 H7.9 V574.4 H22.9 V580.9 H1 Z" fill="#ED7D31"/>
<path d="M29.1,551.7 H36.2 L39.2,566.5 L42.3,551.7 H51.2 L54.3,566.5 L58.0,551.7 H66.3 L58.0,580.6 H50.6 L46.8,565.8 L42.9,580.6 H35.2 Z" fill="#ED7D31"/>
<path d="M37.3,567.6 C37.5,572 35,578 28,580 C20,581.5 14.5,577 15,572.5 C15.5,568 20,566 24,563.5 C29,561 32,558.5 31.5,555.5 C31,552.5 28,552 24.5,552 C20,552.2 17.5,555 17.6,558 C17.8,561.5 21,563 23.5,565.5 L39.6,580.2" fill="none" stroke="#555" stroke-width="1.3"/>
<text x="73" y="564" font-size="15" fill="#595959" textLength="121" lengthAdjust="spacingAndGlyphs"><tspan font-weight="bold">LEARNING</tspan> AND</text>
<text x="73" y="580.4" font-size="15" fill="#595959" textLength="133" lengthAdjust="spacingAndGlyphs"><tspan font-weight="bold">WORK</tspan> INSTITUTE</text>
</svg></body></html>
